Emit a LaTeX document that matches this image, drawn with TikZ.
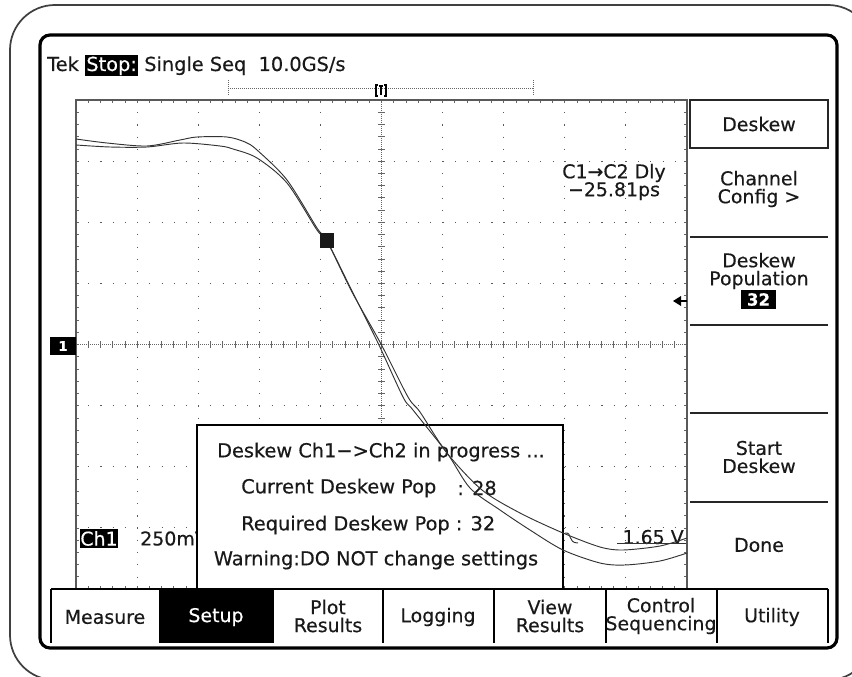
\documentclass[tikz,border=0pt]{standalone}
\usepackage{fontspec}
\setmainfont{DejaVu Sans}[FakeBold=0.35]
\usetikzlibrary{arrows.meta}
\begin{document}
\begin{tikzpicture}[x=0.75pt,y=-0.75pt,
  txt/.style={font=\fontsize{14.2}{13.5}\selectfont, inner sep=0pt, align=center, text=black!90},
  dtxt/.style={font=\fontsize{14.5}{15}\selectfont, inner sep=0pt, text=black!90},
  gridline/.style={draw=black!65, line width=0.8pt, dash pattern=on 0.8pt off 8.365pt},
  centerline/.style={draw=black!60, line width=0.5pt, dash pattern=on 0.75pt off 0.75pt},
  tickmark/.style={draw=black!60, line width=0.5pt},
  wave/.style={draw=black!80, line width=0.7pt},
  sep/.style={draw=black!85, line width=1pt},
  menu/.style={draw=black, line width=1.2pt}
]
\useasboundingbox (0,0) rectangle (852,677);
\fill[white] (0,0) rectangle (852,677);
\begin{scope}
\clip (0,0) rectangle (852,677);
\draw[black!75, line width=1.3pt, rounded corners=33.75pt] (10,5) rectangle (873,680);
\end{scope}
\draw[black, line width=2.4pt, rounded corners=7.5pt] (40,35) rectangle (837,648);

% header
\node[dtxt, anchor=base west] (hdr) at (47,71) {Tek {\fboxsep=1pt\colorbox{black}{\color{white}Stop:}} Single Seq\ \ 10.0GS/s};

% top ruler
\draw[black!60, line width=0.6pt, dash pattern=on 0.75pt off 0.75pt] (228,88) -- (533,88);
\draw[black!60, line width=0.6pt, dash pattern=on 0.75pt off 0.75pt] (228,80) -- (228,96);
\draw[black!60, line width=0.6pt, dash pattern=on 0.75pt off 0.75pt] (533,80) -- (533,96);
\draw[black, line width=1.4pt] (378,85) -- (376,85) -- (376,96) -- (378,96);
\draw[black, line width=1.4pt] (384,85) -- (386,85) -- (386,96) -- (384,96);
\draw[black, line width=0.8pt] (379,86) -- (383,86) (381,86) -- (381,95);

% graticule grid
\foreach \k in {1,2,3,4,6,7,8,9} \draw[gridline] ({76+\k*61.1},100) -- ({76+\k*61.1},589);
\foreach \k in {1,2,3,5,6,7} \draw[gridline] (76,{100+\k*61.125}) -- (687,{100+\k*61.125});
\draw[centerline] (76,344.5) -- (687,344.5);
\draw[centerline] (381.5,100) -- (381.5,589);
\foreach \i in {1,...,49} {
  \draw[tickmark] ({76+\i*12.22},341) -- ++(0,7);
  \draw[tickmark] ({76+\i*12.22},100) -- ++(0,3);
  \draw[tickmark] ({76+\i*12.22},589) -- ++(0,-3);
}
\foreach \j in {1,...,39} {
  \draw[tickmark] (378,{100+\j*12.225}) -- ++(7,0);
  \draw[tickmark] (76,{100+\j*12.225}) -- ++(3,0);
  \draw[tickmark] (687,{100+\j*12.225}) -- ++(-3,0);
}
\draw[black!65, line width=0.8pt] (76,100) rectangle (687,589);

% ground marker
\fill[black] (50,337) rectangle (76,355);
\node[font=\bfseries\fontsize{10}{10}\selectfont, text=white, inner sep=0pt] (gnd) at (63,346) {1};

% readouts
\node[txt, align=center] (dly) at (614,182) {C1→C2 Dly\\−25.81ps};
\fill[black] (80,529) rectangle (118,548);
\node[txt, text=white] (ch1) at (99,538.5) {Ch1};
\node[txt, anchor=west] (volt) at (140,538.5) {250mV};
\node[txt, anchor=east] (lvl) at (684,537) {1.65 V};
\draw[black!80, line width=0.6pt] (617,543) -- (686,543);
\coordinate (arrS) at (687,301);
\coordinate (arrE) at (673,301);
\draw[black, line width=1.2pt] (arrS) -- (679,301);
\fill[black] (arrE) -- (681,296) -- (681,306) -- cycle;

% dialog
\draw[fill=white, draw=black, line width=1.1pt] (197,425) rectangle (563,589);
\node[dtxt] (d1) at (381,452) {Deskew Ch1−>Ch2 in progress ...};
\node[dtxt, anchor=west] (d2) at (241,488) {Current Deskew Pop};
\node[dtxt, anchor=east] (d2b) at (497,488) {: 28};
\node[dtxt, anchor=west] (d3) at (241,525) {Required Deskew Pop : 32};
\node[dtxt] (d4) at (376,560) {Warning:DO NOT change settings};
\draw[black!80, line width=0.7pt] (565,533) .. controls (573,532) and (567,543) .. (578,543);

% waveforms
\draw[wave] plot[smooth, tension=0.5] coordinates {(76,139) (107,143) (147,146) (180,140) (197,137) (227,137) (245,142) (257,150) (287,180) (317,228) (327,241) (352,292) (381,344) (408,397) (420,412) (447,453) (482,490) (520,513) (563,533) (600,547) (623,550) (660,546) (687,538)};
\draw[wave] plot[smooth, tension=0.5] coordinates {(76,145) (110,147) (147,147) (183,143) (220,146) (233,149) (257,158) (287,183) (317,230) (327,241) (352,291) (378,343) (403,397) (413,410) (447,453) (470,488) (500,510) (530,530) (563,550) (600,563) (625,565) (660,561) (687,553)};
\fill[black!90] (320,233) rectangle (334,248);

% right softkeys
\draw[black!85, line width=1pt] (690,100) rectangle (828,148);
\node[txt] (sk1) at (759,124) {Deskew};
\node[txt] (sk2) at (759,189) {Channel\\Config >};
\draw[sep] (690,237) -- (828,237);
\node[txt] (sk3) at (759,271) {Deskew\\Population};
\fill[black] (741,290) rectangle (776,309);
\node[txt, text=white, font=\bfseries\fontsize{12.5}{12}\selectfont] (pop) at (758.5,299.5) {32};
\draw[sep] (690,325) -- (828,325);
\draw[sep] (690,413) -- (828,413);
\node[txt] (sk4) at (759,457) {Start\\Deskew};
\draw[sep] (690,502) -- (828,502);
\node[txt] (sk5) at (759,545) {Done};

% bottom menu
\fill[black] (160,589) rectangle (273,643);
\draw[menu] (51,589) -- (828,589);
\foreach \x in {51,160,273,383,494,606,717,828} \draw[menu] (\x,589) -- (\x,643);
\node[txt] (m1) at (105,617) {Measure};
\node[txt, text=white] (m2) at (216,617) {Setup};
\node[txt] (m3) at (328,616) {Plot\\Results};
\node[txt] (m4) at (438,617) {Logging};
\node[txt] (m5) at (550,616) {View\\Results};
\node[txt] (m6) at (661,616) {Control\\Sequencing};
\node[txt] (m7) at (772,617) {Utility};
\end{tikzpicture}
\end{document}
